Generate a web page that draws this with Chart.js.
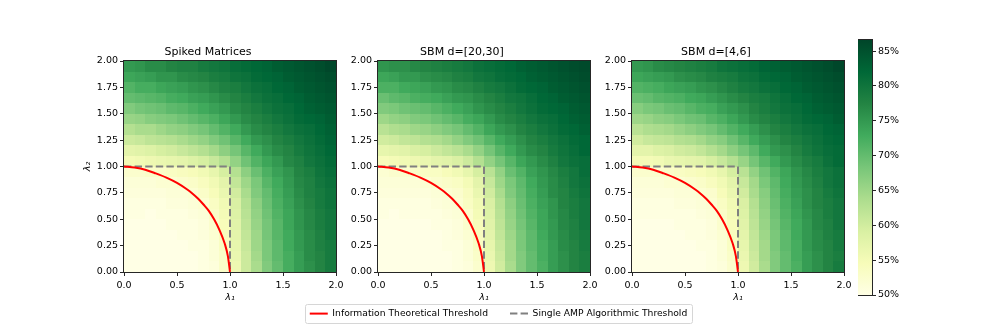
<!DOCTYPE html>
<html>
<head>
<meta charset="utf-8">
<script src="https://cdn.jsdelivr.net/npm/chart.js@4.4.1/dist/chart.umd.min.js"></script>
<style>
  html, body { margin: 0; padding: 0; background: #fff; }
  body { width: 997px; height: 332px; position: relative; overflow: hidden; }
  canvas { position: absolute; }
</style>
</head>
<body>
<canvas id="panel-0"></canvas>
<canvas id="panel-1"></canvas>
<canvas id="panel-2"></canvas>
<canvas id="cbar"></canvas>
<canvas id="legend"></canvas>
<script>
// Data
// bin edges of lambda_1 / lambda_2
const LAMBDA_EDGES = [0, 0.1, 0.2, 0.3, 0.4, 0.5, 0.6, 0.7, 0.8, 0.9, 1.0,
                      1.1, 1.2, 1.3, 1.4, 1.5, 1.6, 1.7, 1.8, 1.9, 2.0];

const PANEL_TITLES = ['Spiked Matrices', 'SBM d=[20,30]', 'SBM d=[4,6]'];

// accuracy (%) - rows from top (lambda_2 = 1.9..2.0) to bottom (0..0.1), columns lambda_1 0..2
const SPIKED_ACC = [
  [75, 75.5, 76.5, 76.5, 77.5, 78, 78, 79, 79.5, 80, 81, 81.5, 82, 82.5, 83.5, 84, 84.5, 85, 85.5, 86.3],
  [73.5, 74, 74.5, 75.5, 75.5, 76.5, 77, 77.5, 78.5, 79, 80, 80.5, 81.5, 82, 82.5, 83.5, 84, 84.5, 85, 85.5],
  [71.5, 72.5, 72.5, 73.5, 74, 74.5, 75.5, 76, 77, 78, 78.5, 79.5, 80.5, 81, 82, 82.5, 83.5, 84, 84.5, 85],
  [70, 70.5, 71, 71.5, 72.5, 73, 74, 74.5, 75.5, 76.5, 77.5, 78.5, 79.5, 80.5, 81, 82, 82.5, 83.5, 84, 84.5],
  [67.5, 68.5, 69, 69.5, 70.5, 71, 72, 73, 74, 75, 76.5, 77.5, 78.5, 79.5, 80.5, 81, 82, 83, 83.5, 84],
  [65.5, 66, 67, 67.5, 68, 69, 70, 71, 72, 73.5, 75, 76.5, 77.5, 78.5, 79.5, 80.5, 81.5, 82, 82.5, 83.5],
  [63, 64, 64, 65, 66, 66.5, 67.5, 68.5, 70, 71.5, 73, 75, 76.5, 77.5, 78.5, 79.5, 80.5, 81, 82, 83],
  [60.5, 61, 62, 62.5, 63, 64, 65, 66, 67.5, 69, 71, 73, 75, 76, 77.5, 78.5, 79.5, 80.5, 81.5, 82.5],
  [57.5, 58, 58.5, 59.5, 60, 61, 62, 63, 64.5, 66.5, 68.5, 71, 73, 75, 76.5, 77.5, 79, 80, 81, 82],
  [55, 55.5, 56, 56.5, 57, 57.5, 58.5, 59.5, 61, 63, 66, 69, 71.5, 73.5, 75, 77, 78, 79.5, 80.5, 81.5],
  [52.5, 52.5, 53, 53, 53.5, 54, 54.5, 55.5, 57, 59.5, 63, 66.5, 69.5, 72, 74, 75.5, 77.5, 78.5, 80, 81],
  [51.5, 51.5, 51.5, 52, 52, 52.5, 53, 54, 55.5, 57.5, 61.5, 65, 68, 71, 73, 75, 77, 78, 79.5, 80.5],
  [51, 51, 51, 51, 51.5, 51.5, 52, 53, 54.5, 56.5, 60, 64, 67.5, 70, 72.5, 74.5, 76.5, 78, 79, 80],
  [50.5, 50.5, 50.5, 50.5, 51, 51, 51.5, 52, 53.5, 55.5, 59, 63, 66.5, 69.5, 72, 74, 76, 77.5, 79, 80],
  [50.5, 50.5, 50, 50.5, 50.5, 50.5, 51, 51.5, 53, 55, 58.5, 62.5, 66, 69, 71.5, 73.5, 75.5, 77, 78.5, 79.5],
  [50, 50, 50, 50, 50.5, 50.5, 50.5, 51, 52.5, 54.5, 58, 62, 65.5, 68.5, 71, 73.5, 75.5, 77, 78.5, 79.5],
  [50, 50, 50, 50, 50, 50.5, 50.5, 51, 52, 54, 57.5, 61.5, 65, 68.5, 71, 73, 75, 76.5, 78, 79.5],
  [50, 50, 50, 50, 50, 50, 50.5, 50.5, 51.5, 53.5, 57, 61, 65, 68, 70.5, 73, 75, 76.5, 78, 79],
  [50, 50, 50, 50, 50, 50, 50, 50.5, 51.5, 53, 56.5, 60.5, 64.5, 68, 70.5, 72.5, 74.5, 76.5, 77.5, 79],
  [50, 50, 50, 50, 50, 50, 50, 50.5, 51, 53, 56, 60.5, 64, 67.5, 70, 72.5, 74.5, 76, 77.5, 79]
];

const SBM_20_30_ACC = [
  [75.5, 76, 76, 77, 77.5, 78, 78.5, 79, 79.5, 80.5, 81, 81.5, 82, 83, 83.5, 84, 84.5, 85, 85.5, 86],
  [73.5, 74, 75, 75, 76, 76.5, 77, 78, 78.5, 79.5, 80, 81, 81.5, 82, 83, 83.5, 84, 84.5, 85, 85.5],
  [72, 72, 73, 73.5, 74, 75, 75.5, 76.5, 77, 78, 79, 79.5, 80.5, 81.5, 82, 82.5, 83.5, 84, 84.5, 85],
  [69.5, 70.5, 71, 72, 72.5, 73, 74, 75, 75.5, 76.5, 77.5, 78.5, 79.5, 80, 81, 82, 82.5, 83.5, 84, 84.5],
  [67.5, 68, 69, 69.5, 70, 71, 72, 73, 74, 75.5, 76.5, 77.5, 78.5, 79.5, 80.5, 81.5, 82, 82.5, 83.5, 84],
  [65, 66, 66.5, 67.5, 68, 69, 70, 71, 72.5, 73.5, 75, 76.5, 77.5, 78.5, 79.5, 80.5, 81, 82, 83, 83.5],
  [62.5, 63.5, 64, 65, 65.5, 66.5, 67.5, 68.5, 70, 71.5, 73.5, 75, 76, 77.5, 78.5, 79.5, 80.5, 81.5, 82, 83],
  [60, 60.5, 61.5, 62, 63, 63.5, 64.5, 66, 67.5, 69, 71, 73, 74.5, 76, 77.5, 78.5, 79.5, 80.5, 81.5, 82],
  [57, 57.5, 58, 59, 59.5, 60.5, 61.5, 62.5, 64, 66, 68.5, 71, 73, 75, 76.5, 77.5, 79, 80, 81, 82],
  [54.5, 55, 55.5, 56, 56.5, 57.5, 58, 59, 60.5, 63, 66, 68.5, 71, 73.5, 75, 76.5, 78, 79.5, 80.5, 81],
  [52, 52.5, 52.5, 53, 53.5, 53.5, 54.5, 55.5, 57, 59.5, 62.5, 66, 69.5, 71.5, 74, 75.5, 77, 78.5, 79.5, 81],
  [51.5, 51.5, 51.5, 51.5, 52, 52.5, 53, 53.5, 55, 57.5, 61, 65, 68, 70.5, 73, 75, 76.5, 78, 79.5, 80.5],
  [51, 51, 51, 51, 51, 51.5, 52, 52.5, 54, 56.5, 60, 64, 67.5, 70, 72.5, 74.5, 76.5, 77.5, 79, 80],
  [50.5, 50.5, 50.5, 50.5, 50.5, 51, 51.5, 52, 53.5, 55.5, 59, 63, 66.5, 69.5, 72, 74, 75.5, 77.5, 78.5, 79.5],
  [50.5, 50, 50.5, 50.5, 50.5, 50.5, 51, 51.5, 52.5, 55, 58.5, 62.5, 66, 69, 71.5, 73.5, 75.5, 77, 78.5, 79.5],
  [50, 50, 50, 50, 50, 50.5, 50.5, 51, 52.5, 54.5, 58, 62, 65.5, 68.5, 71, 73.5, 75, 77, 78, 79.5],
  [50, 50, 50, 50, 50, 50, 50.5, 51, 52, 54, 57.5, 61.5, 65, 68, 70.5, 73, 75, 76.5, 78, 79],
  [50, 50, 50, 50, 50, 50, 50.5, 50.5, 51.5, 53.5, 57, 61, 64.5, 68, 70.5, 72.5, 74.5, 76.5, 77.5, 79],
  [50, 50, 50, 50, 50, 50, 50, 50.5, 51.5, 53, 56.5, 60.5, 64.5, 67.5, 70, 72.5, 74.5, 76, 77.5, 78.5],
  [50, 50, 50, 50, 50, 50, 50, 50.5, 51, 52.5, 56, 60, 64, 67.5, 70, 72, 74.5, 76, 77.5, 78.5]
];

const SBM_4_6_ACC = [
  [75, 75.5, 76.5, 77, 77.5, 78, 78.5, 79, 80, 80.5, 81, 81.5, 82.5, 83, 83.5, 84, 84.5, 85, 85.5, 86.3],
  [73.5, 74, 74.5, 75, 76, 76.5, 77, 78, 78.5, 79, 80, 80.5, 81.5, 82, 82.5, 83.5, 84, 84.5, 85, 85.5],
  [71.5, 72, 72.5, 73.5, 74, 74.5, 75.5, 76, 77, 78, 79, 79.5, 80.5, 81, 82, 82.5, 83.5, 84, 84.5, 85],
  [69.5, 70, 71, 71.5, 72, 73, 73.5, 74.5, 75.5, 76.5, 77.5, 78.5, 79, 80, 81, 82, 82.5, 83.5, 84, 84.5],
  [67, 68, 68.5, 69.5, 70, 71, 72, 72.5, 74, 75, 76, 77.5, 78.5, 79.5, 80.5, 81, 82, 83, 83.5, 84],
  [65, 65.5, 66.5, 67, 68, 69, 69.5, 71, 72, 73.5, 75, 76.5, 77.5, 78.5, 79.5, 80.5, 81.5, 82, 82.5, 83.5],
  [62.5, 63.5, 64, 64.5, 65.5, 66.5, 67.5, 68.5, 70, 71.5, 73, 74.5, 76, 77.5, 78.5, 79.5, 80.5, 81, 82, 82.5],
  [60, 61, 61.5, 62, 63, 63.5, 64.5, 66, 67, 69, 71, 73, 74.5, 76, 77.5, 78.5, 79.5, 80.5, 81.5, 82],
  [57.5, 57.5, 58.5, 59, 60, 60.5, 61.5, 63, 64.5, 66.5, 68.5, 70.5, 73, 75, 76, 77.5, 79, 80, 81, 81.5],
  [55, 55, 55.5, 56.5, 57, 57.5, 58, 59.5, 61, 63, 65.5, 68.5, 71, 73, 75, 76.5, 78, 79, 80.5, 81.5],
  [52.5, 52.5, 52.5, 53, 53.5, 54, 54.5, 55.5, 57, 59.5, 62.5, 66, 69, 71.5, 73.5, 75.5, 77, 78.5, 79.5, 80.5],
  [51.5, 51.5, 51.5, 52, 52, 52.5, 53, 54, 55.5, 57.5, 61, 64.5, 68, 70.5, 73, 75, 76.5, 78, 79.5, 80.5],
  [51, 51, 51, 51, 51.5, 51.5, 52, 52.5, 54.5, 56.5, 60, 64, 67, 70, 72.5, 74.5, 76, 77.5, 79, 80],
  [50.5, 50.5, 50.5, 50.5, 51, 51, 51.5, 52, 53.5, 55.5, 59, 63, 66.5, 69.5, 72, 74, 76, 77.5, 78.5, 79.5],
  [50.5, 50.5, 50.5, 50.5, 50.5, 50.5, 51, 51.5, 53, 55, 58.5, 62.5, 66, 69, 71.5, 73.5, 75.5, 77, 78.5, 79.5],
  [50, 50, 50, 50, 50.5, 50.5, 50.5, 51, 52.5, 54.5, 58, 62, 65.5, 68.5, 71, 73, 75, 77, 78, 79.5],
  [50, 50, 50, 50, 50, 50.5, 50.5, 51, 52, 54, 57.5, 61.5, 65, 68, 70.5, 73, 75, 76.5, 78, 79],
  [50, 50, 50, 50, 50, 50, 50.5, 50.5, 51.5, 53.5, 57, 61, 64.5, 68, 70.5, 72.5, 75, 76.5, 77.5, 79],
  [50, 50, 50, 50, 50, 50, 50, 50.5, 51.5, 53, 56.5, 60.5, 64.5, 67.5, 70, 72.5, 74.5, 76, 77.5, 78.5],
  [50, 50, 50, 50, 50, 50, 50, 50.5, 51, 52.5, 56, 60, 64, 67.5, 70, 72, 74.5, 76, 77.5, 79]
];

const PANEL_DATA = [SPIKED_ACC, SBM_20_30_ACC, SBM_4_6_ACC];

// threshold curves
const IT_LAMBDA1 = [0, 0.1, 0.2, 0.3, 0.4, 0.5, 0.6, 0.65, 0.7, 0.75, 0.8, 0.85, 0.9, 0.95, 0.98, 1.0];
const IT_LAMBDA2 = [1, 0.99, 0.97, 0.935, 0.895, 0.845, 0.78, 0.74, 0.695, 0.64, 0.58, 0.50, 0.40, 0.27, 0.15, 0.0];
const AMP_LAMBDA1 = [0, 1, 1];
const AMP_LAMBDA2 = [1, 1, 0];

// ticks
const X_TICKS = [0, 0.5, 1.0, 1.5, 2.0];
const Y_TICKS = [0, 0.25, 0.5, 0.75, 1.0, 1.25, 1.5, 1.75, 2.0];
const CBAR_TICKS = [50, 55, 60, 65, 70, 75, 80, 85];
const CBAR_MIN = 50;
const CBAR_MAX = 86.6;

// matplotlib YlGn
const YLGN = ['#ffffe5', '#f7fcb9', '#d9f0a3', '#addd8e', '#78c679', '#41ab5d', '#238443', '#006837', '#004529'];

Chart.defaults.font.family = 'DejaVu Sans';
Chart.defaults.color = '#000';

function hexRgb(h) {
    return [parseInt(h.slice(1, 3), 16), parseInt(h.slice(3, 5), 16), parseInt(h.slice(5, 7), 16)];
}
const YLGN_RGB = YLGN.map(hexRgb);

function ylgn(t) {
    t = Math.max(0, Math.min(1, t));
    const pos = t * (YLGN_RGB.length - 1);
    const i = Math.min(Math.floor(pos), YLGN_RGB.length - 2);
    const f = pos - i;
    const a = YLGN_RGB[i], b = YLGN_RGB[i + 1];
    const c = a.map((v, k) => Math.round(v + (b[k] - v) * f));
    return `rgb(${c[0]},${c[1]},${c[2]})`;
}

function frame(chart, color) {
    const { ctx, chartArea: a } = chart;
    ctx.save();
    ctx.strokeStyle = color;
    ctx.lineWidth = 1;
    ctx.strokeRect(a.left - 0.5, a.top - 0.5, a.right - a.left + 1, a.bottom - a.top + 1);
    ctx.restore();
}

// Heatmap cells, drawn through the chart's scales
const heatmapPlugin = {
    id: 'heatmap',
    beforeDatasetsDraw(chart, args, opts) {
        const { ctx, scales: { x, y } } = chart;
        const rows = opts.rows;
        const n = rows.length;
        ctx.save();
        rows.forEach((row, r) => {
            const top = Math.round(y.getPixelForValue(LAMBDA_EDGES[n - r]));
            const bottom = Math.round(y.getPixelForValue(LAMBDA_EDGES[n - r - 1]));
            row.forEach((v, c) => {
                const left = Math.round(x.getPixelForValue(LAMBDA_EDGES[c]));
                const right = Math.round(x.getPixelForValue(LAMBDA_EDGES[c + 1]));
                ctx.fillStyle = ylgn((v - CBAR_MIN) / (CBAR_MAX - CBAR_MIN));
                ctx.fillRect(left, top, right - left, bottom - top);
            });
        });
        ctx.restore();
    },
    afterDraw(chart) {
        frame(chart, '#262626');
    }
};

// Layout
const PANEL_CANVAS_LEFT = [80, 334, 588];
const PANEL_CANVAS_TOP = 41;
const Y_AXIS_W = 44;
const X_AXIS_H = 36;

function setupCanvas(id, left, top, w, h) {
    const c = document.getElementById(id);
    c.width = w;
    c.height = h;
    c.style.left = left + 'px';
    c.style.top = top + 'px';
    c.style.width = w + 'px';
    c.style.height = h + 'px';
    return c;
}

const tickGrid = { drawOnChartArea: false, drawTicks: true, tickLength: 4, color: '#262626', lineWidth: 1 };

function renderPanel(i) {
    const canvas = setupCanvas('panel-' + i, PANEL_CANVAS_LEFT[i], PANEL_CANVAS_TOP, Y_AXIS_W + 212 + 12, 20 + 211 + X_AXIS_H);
    return new Chart(canvas.getContext('2d'), {
        type: 'scatter',
        data: {
            datasets: [{
                label: 'Information Theoretical Threshold',
                data: IT_LAMBDA1.map((v, k) => ({ x: v, y: IT_LAMBDA2[k] })),
                showLine: true,
                borderColor: '#ff0000',
                borderWidth: 2,
                pointRadius: 0,
                cubicInterpolationMode: 'monotone'
            }, {
                label: 'Single AMP Algorithmic Threshold',
                data: AMP_LAMBDA1.map((v, k) => ({ x: v, y: AMP_LAMBDA2[k] })),
                showLine: true,
                borderColor: '#808080',
                borderWidth: 2,
                borderDash: [7.4, 3.2],
                pointRadius: 0
            }]
        },
        options: {
            responsive: false,
            animation: false,
            devicePixelRatio: 1,
            events: [],
            layout: { padding: { left: 0, right: 12, top: 0, bottom: 0 } },
            plugins: {
                legend: { display: false },
                tooltip: { enabled: false },
                title: {
                    display: true,
                    text: PANEL_TITLES[i],
                    font: { size: 11, weight: 'normal', lineHeight: 15 / 11 },
                    padding: { top: 4, bottom: 1 },
                    color: '#000'
                },
                heatmap: { rows: PANEL_DATA[i] }
            },
            scales: {
                x: {
                    type: 'linear',
                    min: 0,
                    max: 2,
                    afterBuildTicks: s => { s.ticks = X_TICKS.map(v => ({ value: v })); },
                    afterFit: s => { s.height = X_AXIS_H; },
                    ticks: { callback: v => v.toFixed(1), font: { size: 9.5 }, color: '#000', padding: 3.5, maxRotation: 0 },
                    grid: tickGrid,
                    border: { display: false },
                    title: {
                        display: true,
                        text: 'λ₁',
                        font: { size: 9.5, style: 'italic' },
                        color: '#000',
                        padding: { top: 0, bottom: 5 }
                    }
                },
                y: {
                    type: 'linear',
                    min: 0,
                    max: 2,
                    afterBuildTicks: s => { s.ticks = Y_TICKS.map(v => ({ value: v })); },
                    afterFit: s => { s.width = Y_AXIS_W; },
                    ticks: { callback: v => v.toFixed(2), font: { size: 9.5 }, color: '#000', padding: 2 },
                    grid: tickGrid,
                    border: { display: false },
                    title: {
                        display: i === 0,
                        text: 'λ₂',
                        font: { size: 9.5, style: 'italic' },
                        color: '#000',
                        padding: { top: 2, bottom: 0 }
                    }
                }
            }
        },
        plugins: [heatmapPlugin]
    });
}

PANEL_TITLES.forEach((_, i) => renderPanel(i));

// Colorbar
const cbarPlugin = {
    id: 'cbarFill',
    beforeDatasetsDraw(chart) {
        const { ctx, chartArea: a, scales: { y } } = chart;
        const y0 = y.getPixelForValue(CBAR_MIN);
        const y1 = y.getPixelForValue(CBAR_MAX);
        const g = ctx.createLinearGradient(0, y0, 0, y1);
        YLGN.forEach((c, k) => g.addColorStop(k / (YLGN.length - 1), c));
        ctx.save();
        ctx.fillStyle = g;
        ctx.fillRect(a.left, a.top, a.right - a.left, a.bottom - a.top);
        ctx.restore();
    },
    afterDraw(chart) {
        frame(chart, '#262626');
    }
};

const cbarCanvas = setupCanvas('cbar', 858, 30, 60, 275);
new Chart(cbarCanvas.getContext('2d'), {
    type: 'scatter',
    data: { datasets: [{ data: [] }] },
    options: {
        responsive: false,
        animation: false,
        devicePixelRatio: 1,
        events: [],
        layout: { padding: { left: 0, right: 0, top: 10, bottom: 10 } },
        plugins: { legend: { display: false }, tooltip: { enabled: false } },
        scales: {
            x: { display: false, min: 0, max: 1 },
            y: {
                type: 'linear',
                position: 'right',
                min: CBAR_MIN,
                max: CBAR_MAX,
                afterBuildTicks: s => { s.ticks = CBAR_TICKS.map(v => ({ value: v })); },
                afterFit: s => { s.width = 46; },
                ticks: { callback: v => v + '%', font: { size: 9.5 }, color: '#000', padding: 2 },
                grid: tickGrid,
                border: { display: false }
            }
        }
    },
    plugins: [cbarPlugin]
});

// Shared legend
const legendFramePlugin = {
    id: 'legendFrame',
    afterDraw(chart) {
        const boxes = chart.legend.legendHitBoxes;
        if (!boxes || !boxes.length) return;
        const first = boxes[0], last = boxes[boxes.length - 1];
        const left = Math.round(first.left - 4.5);
        const right = Math.round(last.left + last.width + 4.5);
        const top = Math.round(first.top - 5);
        const h = Math.round(first.height + 10);
        const ctx = chart.ctx;
        ctx.save();
        ctx.beginPath();
        ctx.roundRect(left + 0.5, top + 0.5, right - left, h, 2);
        ctx.strokeStyle = '#d6d6d6';
        ctx.lineWidth = 1;
        ctx.stroke();
        ctx.restore();
    }
};

const legendCanvas = setupCanvas('legend', 0, 287, 997, 64);
new Chart(legendCanvas.getContext('2d'), {
    type: 'scatter',
    data: {
        datasets: [
            { label: 'Information Theoretical Threshold', data: [], borderColor: '#ff0000', borderWidth: 2 },
            { label: 'Single AMP Algorithmic Threshold', data: [], borderColor: '#808080', borderWidth: 2, borderDash: [7.4, 3.2] }
        ]
    },
    options: {
        responsive: false,
        animation: false,
        devicePixelRatio: 1,
        events: [],
        layout: { padding: 0 },
        scales: { x: { display: false }, y: { display: false } },
        plugins: {
            tooltip: { enabled: false },
            legend: {
                display: true,
                position: 'top',
                labels: {
                    usePointStyle: true,
                    pointStyle: 'line',
                    pointStyleWidth: 18,
                    padding: 22,
                    font: { size: 9.2 },
                    color: '#000',
                    generateLabels: chart => chart.data.datasets.map((ds, i) => ({
                        text: ds.label,
                        strokeStyle: ds.borderColor,
                        fillStyle: ds.borderColor,
                        lineWidth: ds.borderWidth,
                        lineDash: ds.borderDash || [],
                        pointStyle: 'line',
                        hidden: false,
                        datasetIndex: i,
                        fontColor: '#000'
                    }))
                }
            }
        }
    },
    plugins: [legendFramePlugin]
});
</script>
</body>
</html>
